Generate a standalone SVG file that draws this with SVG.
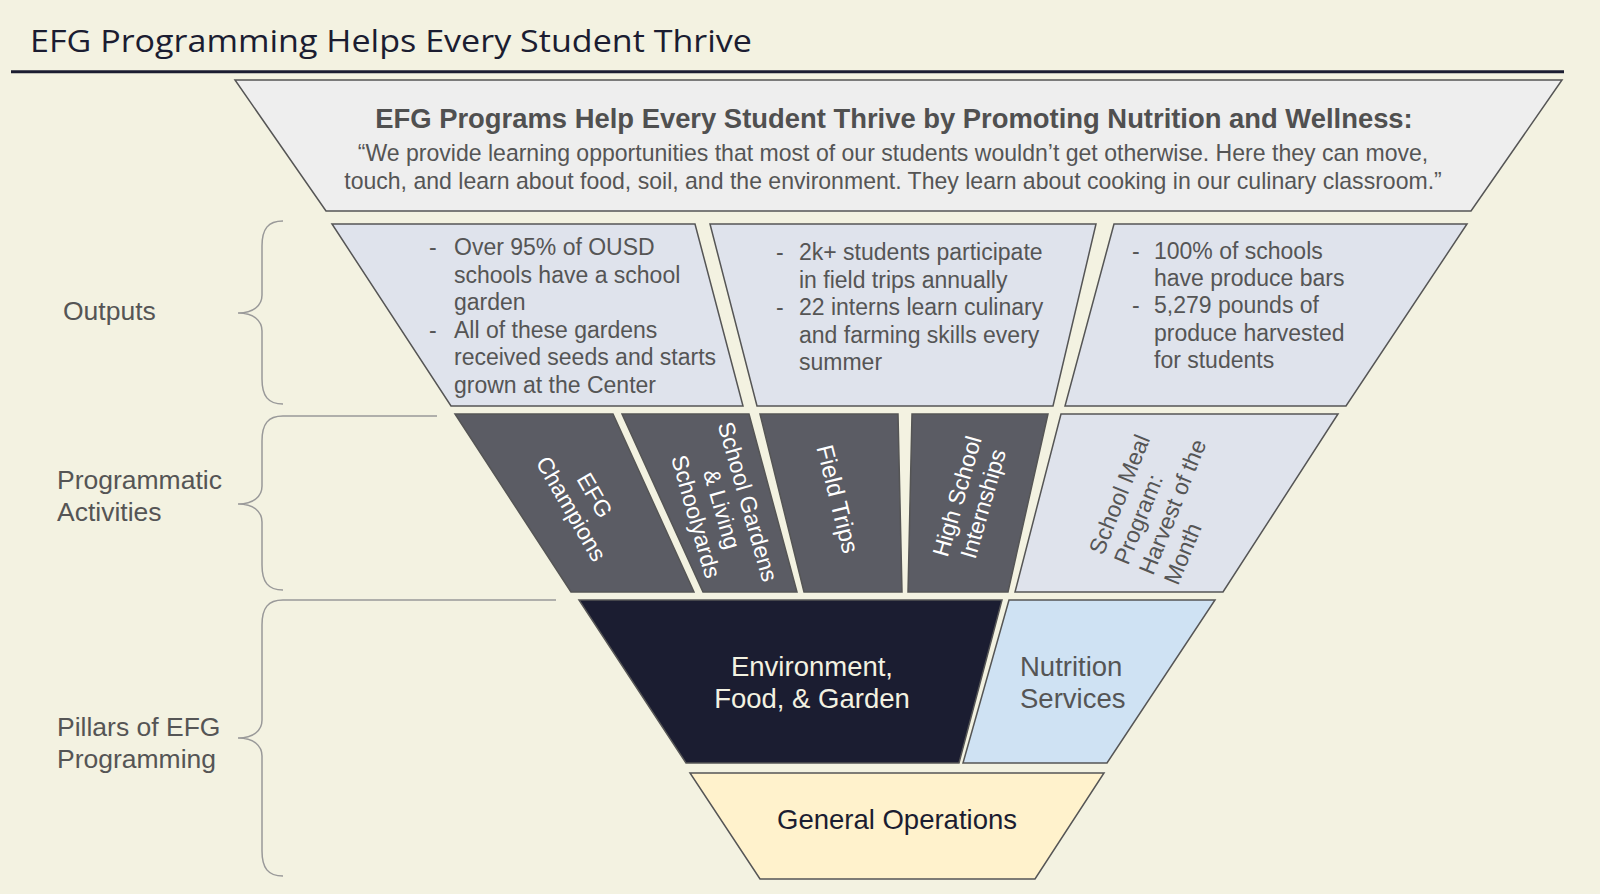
<svg xmlns="http://www.w3.org/2000/svg" width="1600" height="894" viewBox="0 0 1600 894">
<style>
.t{font-family:"Liberation Sans",Arial,sans-serif}
.shape{stroke:#555;stroke-width:1.5;stroke-linejoin:miter}
.gray{fill:#555}
.out{font-size:23px;fill:#555}
.act{font-size:23px;fill:#fff;text-anchor:middle}
.side{font-size:26.5px;fill:#555}
.brace{fill:none;stroke:#999;stroke-width:1.5}
</style>
<rect width="1600" height="894" fill="#f3f2e1"/>
<g id="title">
<text x="30" y="52" font-family="'Open Sans',sans-serif" font-size="31" fill="#1b1d31" textLength="722" lengthAdjust="spacingAndGlyphs">EFG Programming Helps Every Student Thrive</text>
<line x1="11" y1="71.7" x2="1564" y2="71.7" stroke="#1b1d31" stroke-width="3"/>
</g>
<g id="top-banner">
<polygon class="shape" fill="#eeeeee" points="235,80 1562,80 1471,211 326,211"/>
<text class="t" x="894" y="128" font-size="27.4" font-weight="bold" fill="#505050" text-anchor="middle">EFG Programs Help Every Student Thrive by Promoting Nutrition and Wellness:</text>
<text class="t gray" font-size="23.05" text-anchor="middle"><tspan x="893" y="161">“We provide learning opportunities that most of our students wouldn’t get otherwise. Here they can move,</tspan><tspan x="893" y="189">touch, and learn about food, soil, and the environment. They learn about cooking in our culinary classroom.”</tspan></text>
</g>
<g id="output-1">
<polygon class="shape" fill="#dfe3ec" points="332,224 695,224 743,406 451,406"/>
<text class="t out"><tspan x="429" y="255">-</tspan><tspan x="454" y="255">Over 95% of OUSD</tspan><tspan x="454" y="282.6">schools have a school</tspan><tspan x="454" y="310.2">garden</tspan><tspan x="429" y="337.8">-</tspan><tspan x="454" y="337.8">All of these gardens</tspan><tspan x="454" y="365.4">received seeds and starts</tspan><tspan x="454" y="393">grown at the Center</tspan></text>
</g>
<g id="output-2">
<polygon class="shape" fill="#dfe3ec" points="710,224 1096,224 1053,406 757,406"/>
<text class="t out"><tspan x="776" y="260">-</tspan><tspan x="799" y="260">2k+ students participate</tspan><tspan x="799" y="287.5">in field trips annually</tspan><tspan x="776" y="315">-</tspan><tspan x="799" y="315">22 interns learn culinary</tspan><tspan x="799" y="342.5">and farming skills every</tspan><tspan x="799" y="370">summer</tspan></text>
</g>
<g id="output-3">
<polygon class="shape" fill="#dfe3ec" points="1114,224 1467,224 1346,406 1065,406"/>
<text class="t out"><tspan x="1132" y="258.5">-</tspan><tspan x="1154" y="258.5">100% of schools</tspan><tspan x="1154" y="285.9">have produce bars</tspan><tspan x="1132" y="313.3">-</tspan><tspan x="1154" y="313.3">5,279 pounds of</tspan><tspan x="1154" y="340.7">produce harvested</tspan><tspan x="1154" y="368.1">for students</tspan></text>
</g>
<g id="activity-efg-champions">
<polygon class="shape" fill="#5b5c64" points="455,414 613,414 694,592 571,592"/>
<text class="t act" transform="translate(583,502) rotate(60)"><tspan x="0" y="-5.5">EFG</tspan><tspan x="0" y="21.5">Champions</tspan></text>
</g>
<g id="activity-school-gardens">
<polygon class="shape" fill="#5b5c64" points="622,414 749,414 797,592 703,592"/>
<text class="t act" transform="translate(722,509) rotate(74)"><tspan x="0" y="-19">School Gardens</tspan><tspan x="0" y="8">&amp; Living</tspan><tspan x="0" y="35">Schoolyards</tspan></text>
</g>
<g id="activity-field-trips">
<polygon class="shape" fill="#5b5c64" points="760,414 898,414 902,592 804,592"/>
<text class="t act" transform="translate(838,499) rotate(76)" x="0" y="8.5" style="font-size:24px">Field Trips</text>
</g>
<g id="activity-internships">
<polygon class="shape" fill="#5b5c64" points="912,414 1048,414 1008,592 908,592"/>
<text class="t act" transform="translate(970,500) rotate(-74)"><tspan x="0" y="-5.5">High School</tspan><tspan x="0" y="21.5">Internships</tspan></text>
</g>
<g id="activity-school-meal">
<polygon class="shape" fill="#dfe3ec" points="1061,414 1338,414 1223,592 1015,592"/>
<text class="t" font-size="23" fill="#555" transform="translate(1103,556) rotate(-68)"><tspan x="0" y="0">School Meal</tspan><tspan x="0" y="27">Program:</tspan><tspan x="0" y="54">Harvest of the</tspan><tspan x="0" y="81">Month</tspan></text>
</g>
<g id="pillar-efg">
<polygon class="shape" fill="#1b1d31" points="579,600 1002,600 959,763 686,763"/>
<text class="t" font-size="27.5" fill="#f3f2e1" text-anchor="middle"><tspan x="812" y="676">Environment,</tspan><tspan x="812" y="708">Food, &amp; Garden</tspan></text>
</g>
<g id="pillar-nutrition">
<polygon class="shape" fill="#cfe2f3" points="1009,600 1215,600 1107,763 963,763"/>
<text class="t" font-size="27.5" fill="#555"><tspan x="1020" y="676">Nutrition</tspan><tspan x="1020" y="708">Services</tspan></text>
</g>
<g id="general-operations">
<polygon class="shape" fill="#fff2cc" points="690,773 1104,773 1035,879 760,879"/>
<text class="t" font-size="27.5" fill="#1b1d31" text-anchor="middle" x="897" y="829">General Operations</text>
</g>
<g id="brackets">
<path class="brace" d="M283,221 C268,221 262,229 262,246 L262,295 C262,305 254,313 238,313 C254,313 262,321 262,331 L262,379 C262,396 268,404 283,404"/>
<path class="brace" d="M437,416 L283,416 C268,416 262,424 262,441 L262,486 C262,496 254,504 238,504 C254,504 262,512 262,522 L262,565 C262,582 268,590 283,590"/>
<path class="brace" d="M556,600 L283,600 C268,600 262,608 262,625 L262,720 C262,730 254,738 238,738 C254,738 262,746 262,756 L262,851 C262,868 268,876 283,876"/>
</g>
<g id="labels">
<text class="t side" x="63" y="320">Outputs</text>
<text class="t side"><tspan x="57" y="489">Programmatic</tspan><tspan x="57" y="521">Activities</tspan></text>
<text class="t side"><tspan x="57" y="736">Pillars of EFG</tspan><tspan x="57" y="768">Programming</tspan></text>
</g>
</svg>
